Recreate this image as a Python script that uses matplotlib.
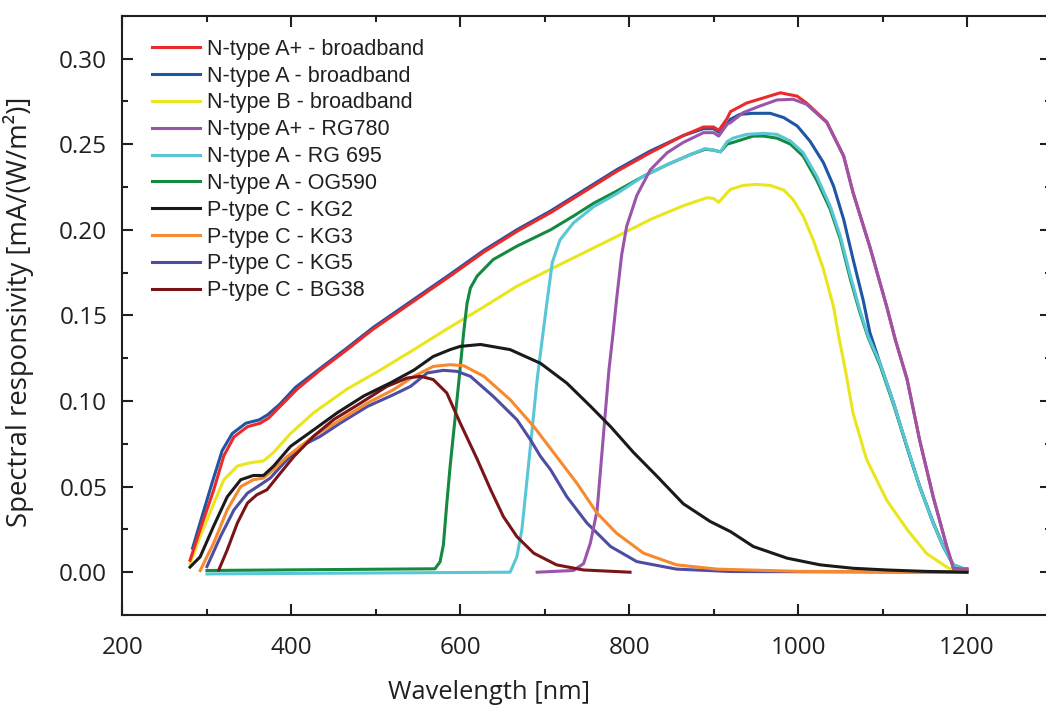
import numpy as np
import matplotlib
matplotlib.use("Agg")
import matplotlib.pyplot as plt
from matplotlib.ticker import MultipleLocator

# wavelength [nm] / responsivity [mA/(W/m^2)]
wl_ap_bb = [280, 292, 308, 320, 332, 348, 363, 373, 387, 407, 434, 466, 497, 588, 628, 667, 707, 746, 785, 825,
            864, 888, 900, 906, 916, 920, 939, 959, 979, 999, 1010, 1034, 1054, 1065, 1085, 1105, 1115, 1129,
            1144, 1160, 1176, 1184, 1200]
r_ap_bb = [0.007, 0.025, 0.048, 0.068, 0.079, 0.085, 0.087, 0.090, 0.097, 0.107, 0.118, 0.130, 0.142, 0.173, 0.187,
           0.199, 0.210, 0.222, 0.234, 0.245, 0.255, 0.260, 0.260, 0.258, 0.265, 0.269, 0.274, 0.277, 0.280, 0.278,
           0.274, 0.263, 0.243, 0.222, 0.190, 0.155, 0.136, 0.113, 0.077, 0.044, 0.015, 0.002, 0.002]

wl_a_bb = [283, 292, 306, 318, 330, 346, 362, 372, 386, 405, 434, 466, 497, 588, 628, 667, 707, 746, 785, 825, 864,
           888, 900, 906, 916, 920, 931, 947, 967, 983, 999, 1014, 1030, 1042, 1054, 1065, 1077, 1085, 1097, 1113,
           1129, 1144, 1160, 1172, 1184, 1200]
r_a_bb = [0.014, 0.029, 0.052, 0.071, 0.081, 0.087, 0.089, 0.092, 0.098, 0.108, 0.119, 0.131, 0.143, 0.174, 0.188,
          0.200, 0.211, 0.223, 0.235, 0.246, 0.255, 0.259, 0.259, 0.257, 0.262, 0.2645, 0.2674, 0.268, 0.268, 0.2655,
          0.2606, 0.2518, 0.2392, 0.2255, 0.206, 0.183, 0.159, 0.140, 0.122, 0.099, 0.073, 0.050, 0.029, 0.015,
          0.004, 0.001]

wl_b_bb = [280, 292, 308, 320, 336, 352, 367, 379, 399, 426, 466, 505, 545, 584, 628, 667, 707, 746, 785, 825, 864,
           892, 900, 906, 916, 920, 935, 951, 967, 983, 994, 1006, 1018, 1030, 1042, 1048, 1056, 1065, 1081, 1105,
           1129, 1152, 1176, 1190]
r_b_bb = [0.005, 0.021, 0.040, 0.054, 0.062, 0.064, 0.065, 0.070, 0.081, 0.093, 0.107, 0.118, 0.130, 0.142, 0.155,
          0.167, 0.177, 0.1865, 0.196, 0.206, 0.214, 0.2187, 0.2183, 0.216, 0.2216, 0.2236, 0.2259, 0.2265, 0.2259,
          0.2232, 0.2177, 0.208, 0.194, 0.177, 0.155, 0.138, 0.118, 0.093, 0.066, 0.042, 0.025, 0.011, 0.003, 0.000]

wl_ap_rg780 = [691, 734, 746, 754, 762, 770, 776, 781, 785, 791, 797, 809, 825, 845, 864, 888, 900, 906, 916, 920,
               935, 955, 975, 994, 1010, 1034, 1054, 1065, 1085, 1105, 1115, 1129, 1144, 1160, 1176, 1184, 1200]
r_ap_rg780 = [0.000, 0.001, 0.005, 0.017, 0.036, 0.083, 0.118, 0.140, 0.159, 0.185, 0.202, 0.220, 0.235, 0.245,
              0.251, 0.2567, 0.2567, 0.2547, 0.2616, 0.2626, 0.2684, 0.2723, 0.2758, 0.2762, 0.2733, 0.2626, 0.243,
              0.2216, 0.190, 0.155, 0.136, 0.1125, 0.077, 0.044, 0.015, 0.0023, 0.0018]

wl_a_rg695 = [300, 659, 667, 673, 679, 685, 691, 697, 703, 709, 718, 734, 758, 785, 817, 845, 873, 890, 900, 908,
              916, 923, 939, 959, 975, 991, 1006, 1022, 1038, 1050, 1062, 1073, 1083, 1097, 1113, 1129, 1144, 1160,
              1172, 1184, 1200]
r_a_rg695 = [-0.001, 0.000, 0.009, 0.025, 0.054, 0.083, 0.1125, 0.136, 0.159, 0.181, 0.194, 0.204, 0.2135, 0.221,
             0.2313, 0.238, 0.244, 0.2474, 0.2465, 0.2455, 0.2515, 0.2535, 0.2557, 0.2563, 0.2557, 0.2518, 0.245,
             0.2313, 0.2138, 0.1963, 0.1729, 0.1534, 0.1378, 0.1222, 0.0988, 0.0734, 0.050, 0.0287, 0.015, 0.0043,
             0.0013]

wl_a_og590 = [300, 570, 576, 580, 584, 588, 598, 604, 608, 612, 620, 639, 667, 707, 734, 758, 785, 817, 845, 873,
              890, 900, 908, 916, 923, 939, 947, 959, 975, 991, 1006, 1022, 1038, 1050, 1062, 1073, 1083, 1097, 1113,
              1129, 1144, 1160, 1172, 1184, 1200]
r_a_og590 = [0.001, 0.002, 0.006, 0.016, 0.040, 0.062, 0.110, 0.140, 0.157, 0.166, 0.173, 0.1826, 0.1904, 0.200,
             0.208, 0.2155, 0.2225, 0.2313, 0.238, 0.244, 0.247, 0.2465, 0.2455, 0.250, 0.251, 0.2535, 0.2547,
             0.2547, 0.2535, 0.250, 0.243, 0.229, 0.212, 0.1945, 0.171, 0.152, 0.137, 0.121, 0.098, 0.073, 0.050,
             0.0287, 0.015, 0.0043, 0.0013]

wl_kg2 = [280, 292, 308, 324, 340, 355, 367, 379, 399, 426, 454, 486, 517, 545, 568, 588, 600, 624, 659, 695, 726,
          754, 778, 805, 833, 864, 896, 920, 947, 987, 1026, 1065, 1105, 1150, 1200]
r_kg2 = [0.003, 0.009, 0.027, 0.044, 0.054, 0.0565, 0.0565, 0.062, 0.0735, 0.083, 0.093, 0.103, 0.1105, 0.118,
         0.126, 0.130, 0.1319, 0.133, 0.130, 0.122, 0.1105, 0.097, 0.085, 0.070, 0.056, 0.040, 0.0296, 0.0237,
         0.015, 0.0082, 0.0043, 0.0023, 0.0013, 0.0005, 0.0]

wl_kg3 = [292, 308, 324, 340, 355, 367, 379, 395, 426, 458, 490, 521, 545, 568, 588, 604, 628, 659, 687, 714, 738,
          762, 785, 817, 856, 904, 1000, 1200]
r_kg3 = [0.001, 0.017, 0.0364, 0.050, 0.054, 0.055, 0.060, 0.0676, 0.0793, 0.089, 0.0988, 0.1066, 0.1144, 0.1202,
         0.1212, 0.1206, 0.1144, 0.1008, 0.0851, 0.0676, 0.052, 0.0345, 0.0228, 0.0111, 0.0043, 0.0018, 0.0005, 0.0]

wl_kg5 = [300, 316, 332, 348, 363, 375, 391, 411, 434, 458, 490, 521, 541, 561, 580, 596, 612, 639, 667, 683, 695,
          707, 726, 750, 778, 809, 856, 920, 1200]
r_kg5 = [0.0033, 0.0208, 0.0364, 0.0462, 0.051, 0.055, 0.0637, 0.0735, 0.0793, 0.0871, 0.0968, 0.1037, 0.1085,
         0.1164, 0.1179, 0.1173, 0.1144, 0.1027, 0.0891, 0.0774, 0.0676, 0.0598, 0.0442, 0.0287, 0.015, 0.0062,
         0.0018, 0.0004, 0.0]

wl_bg38 = [314, 324, 336, 348, 359, 371, 387, 403, 426, 450, 482, 513, 537, 553, 568, 584, 600, 620, 636, 651, 667,
           687, 714, 746, 801]
r_bg38 = [0.0013, 0.013, 0.0287, 0.0404, 0.0452, 0.0481, 0.0579, 0.0676, 0.0793, 0.0891, 0.0988, 0.1085, 0.1134,
          0.1144, 0.1125, 0.1047, 0.087, 0.066, 0.0481, 0.0325, 0.0208, 0.0111, 0.0043, 0.0013, 0.0]

labels = ["N-type A+ - broadband", "N-type A - broadband", "N-type B - broadband", "N-type A+ - RG780",
          "N-type A - RG 695", "N-type A - OG590", "P-type C - KG2", "P-type C - KG3", "P-type C - KG5",
          "P-type C - BG38"]
series = [(wl_ap_bb, r_ap_bb), (wl_a_bb, r_a_bb), (wl_b_bb, r_b_bb), (wl_ap_rg780, r_ap_rg780),
          (wl_a_rg695, r_a_rg695), (wl_a_og590, r_a_og590), (wl_kg2, r_kg2), (wl_kg3, r_kg3),
          (wl_kg5, r_kg5), (wl_bg38, r_bg38)]
colors = ["#ec2a2c", "#1f55a5", "#eae61e", "#9a55ab", "#58c6d6", "#138a40", "#1a1a1a", "#f7892e",
          "#4d4ea2", "#7a1517"]
zorders = [4, 3, 3, 5, 4, 3, 6, 5, 4, 5]

fig = plt.figure(figsize=(10.46, 7.11), dpi=100)
ax = fig.add_axes([0.1171, 0.135, 0.8881, 0.8429])

for (x, y), lab, c, z in zip(series, labels, colors, zorders):
    ax.plot(x, y, color=c, lw=2.2, label=lab, zorder=z, solid_joinstyle="round")

ax.set_xlim(200, 1300)
ax.set_ylim(-0.025, 0.325)
ax.xaxis.set_major_locator(MultipleLocator(200))
ax.xaxis.set_minor_locator(MultipleLocator(100))
ax.yaxis.set_major_locator(MultipleLocator(0.05))
ax.yaxis.set_minor_locator(MultipleLocator(0.025))
ax.set_xticks([200, 400, 600, 800, 1000, 1200])
ax.set_yticks([0.0, 0.05, 0.10, 0.15, 0.20, 0.25, 0.30])
ax.set_yticklabels(["0.00", "0.05", "0.10", "0.15", "0.20", "0.25", "0.30"])

for s in ax.spines.values():
    s.set_linewidth(1.5)
    s.set_color("#231f20")
ax.tick_params(which="both", direction="in", top=True, right=True, width=1.5, color="#231f20")
ax.tick_params(which="major", length=8)
ax.tick_params(which="minor", length=4)
ax.tick_params(axis="y", which="major", labelsize=17.5, pad=11)
ax.tick_params(axis="x", which="major", labelsize=17.5, pad=15)
for lbl in ax.get_xticklabels() + ax.get_yticklabels():
    lbl.set_family("Open Sans")
    lbl.set_color("#231f20")

ax.set_xlabel("Wavelength [nm]", fontsize=18.4, family="Open Sans", color="#231f20")
ax.xaxis.set_label_coords(0.3945, -0.108)
ax.set_ylabel("Spectral responsivity [mA/(W/m²)]", fontsize=19.8, family="Open Sans", color="#231f20")
ax.yaxis.set_label_coords(-0.095, 0.506)

leg = ax.legend(loc="upper left", bbox_to_anchor=(0.0314, 0.9614), frameon=False, borderaxespad=0,
                borderpad=0, handlelength=2.23, handletextpad=0.32, labelspacing=0.27,
                prop={"family": "Liberation Sans", "size": 15.5})
for t in leg.get_texts():
    t.set_color("#231f20")

fig.savefig("out.png", dpi=100)
